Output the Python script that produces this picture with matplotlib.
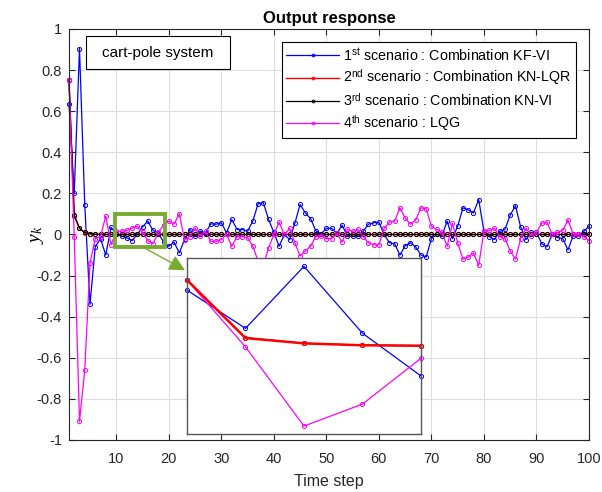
import numpy as np
import matplotlib
matplotlib.use('Agg')
import matplotlib.pyplot as plt
from matplotlib.patches import Rectangle

plt.rcParams['font.family'] = ['Liberation Sans', 'DejaVu Sans']
plt.rcParams['mathtext.fontset'] = 'custom'
plt.rcParams['mathtext.rm'] = 'Liberation Sans'
plt.rcParams['mathtext.it'] = 'Liberation Serif:italic'

# Data
steps = np.arange(1, 101)

kf_vi = [0.635, 0.20, 0.905, 0.145, -0.34, -0.06, -0.02, -0.10, 0.035, 0.00,
         -0.008, -0.016, -0.03, 0.0, 0.037, 0.065, 0.02, 0.008, -0.037, -0.057,
         -0.037, -0.09, -0.024, 0.024, -0.008, 0.016, 0.008, 0.052, 0.05, 0.057,
         0.008, 0.073, 0.024, 0.024, 0.016, 0.065, 0.15, 0.155, 0.073, 0.01,
         -0.057, 0.0, -0.025, 0.055, 0.146, 0.105, 0.077, 0.018, 0.003, 0.03,
         0.03, 0.005, 0.045, -0.008, -0.008, -0.008, 0.015, 0.05, 0.057, 0.06,
         0.0, -0.04, -0.045, -0.10, -0.055, -0.04, -0.06, -0.10, -0.11, -0.02,
         0.0, -0.005, 0.065, -0.02, 0.04, 0.13, 0.12, 0.105, 0.17, 0.015,
         -0.01, -0.025, 0.015, 0.025, 0.095, 0.14, 0.035, -0.025, 0.01, 0.01,
         -0.045, -0.06, 0.0, -0.015, -0.02, -0.075, -0.005, -0.005, 0.015, 0.04]

kn_lqr = [0.75, 0.09, 0.03, 0.008, 0.003, 0.001] + [0.0] * 94
kn_vi = [0.75, 0.095, 0.03, 0.01, 0.004, 0.001] + [0.0] * 94

lqg = [0.75, -0.01, -0.91, -0.66, -0.14, -0.02, -0.01, 0.09, -0.05, 0.016,
       0.016, 0.02, 0.03, 0.04, 0.01, -0.03, -0.045, 0.01, 0.045, 0.065,
       0.05, 0.10, -0.025, -0.01, 0.03, -0.008, 0.015, -0.033, -0.033, -0.025,
       0.0, -0.057, -0.01, -0.01, -0.015, -0.057, -0.13, -0.15, -0.065, 0.0,
       0.06, 0.0, 0.03, -0.04, -0.105, -0.08, -0.057, -0.01, -0.005, -0.02,
       -0.02, 0.005, -0.037, 0.025, 0.015, 0.025, -0.01, -0.04, -0.05, -0.05,
       0.03, 0.06, 0.065, 0.13, 0.08, 0.05, 0.07, 0.13, 0.125, 0.04,
       0.025, 0.01, -0.057, 0.054, -0.04, -0.12, -0.11, -0.09, -0.15, 0.016,
       0.02, 0.03, -0.01, -0.02, -0.08, -0.12, -0.02, 0.03, -0.005, 0.01,
       0.055, 0.06, 0.0, 0.01, 0.02, 0.07, 0.0, 0.0, -0.01, -0.03]

labels = [r'1$^{\rm st}$ scenario : Combination KF-VI',
          r'2$^{\rm nd}$ scenario : Combination KN-LQR',
          r'3$^{\rm rd}$ scenario : Combination KN-VI',
          r'4$^{\rm th}$ scenario : LQG']

BLUE, RED, BLACK, MAG = '#0000ff', '#ff0000', '#000000', '#ff00ff'
GREEN = '#77ac30'

fig = plt.figure(figsize=(6.02, 4.92), dpi=100)
ax = fig.add_axes([0.1146, 0.1057, 0.8638, 0.8354])

mk = dict(marker='o', markersize=3, markerfacecolor='none',
          markeredgewidth=0.7, clip_on=False)
ax.plot(steps, kf_vi, color=BLUE, lw=0.9, label=labels[0], **mk)
ax.plot(steps, kn_lqr, color=RED, lw=1.0, label=labels[1], **mk)
ax.plot(steps, kn_vi, color=BLACK, lw=0.9, label=labels[2], **mk)
ax.plot(steps, lqg, color=MAG, lw=0.9, label=labels[3], **mk)

ax.set_xlim(1, 100)
ax.set_ylim(-1, 1)
ax.set_xticks(np.arange(10, 101, 10))
ax.set_yticks(np.arange(-1, 1.01, 0.2))
ax.set_yticklabels(['-1', '-0.8', '-0.6', '-0.4', '-0.2', '0',
                    '0.2', '0.4', '0.6', '0.8', '1'])
ax.grid(True, color='#dedede', lw=0.8)
ax.tick_params(direction='in', top=True, right=True, length=4,
               labelsize=10.5, colors='#262626')
ax.tick_params(axis='x', pad=8.5)
ax.tick_params(axis='y', pad=5)
for s in ax.spines.values():
    s.set_color('#262626')
    s.set_linewidth(0.8)

ax.set_title('Output response', fontsize=12, fontweight='bold', pad=4)
ax.set_xlabel('Time step', fontsize=11.5, color='#262626', labelpad=6)
ax.set_ylabel(r'$y_k$', fontsize=14)
ax.yaxis.set_label_coords(-0.044, 0.5)

leg = ax.legend(loc='upper right', bbox_to_anchor=(0.975, 0.968),
                borderaxespad=0, fancybox=False, edgecolor='black',
                framealpha=1, fontsize=10.3, handlelength=3.7,
                handletextpad=0.3, labelspacing=0.3, borderpad=0.3)
leg.get_frame().set_linewidth(0.8)
for h in leg.get_lines():
    h.set_markersize(2)

# text box
ax.add_patch(Rectangle((0.033, 0.903), 0.277, 0.08, transform=ax.transAxes,
                       facecolor='white', edgecolor='black', lw=0.8, zorder=5))
ax.text(0.1715, 0.942, 'cart-pole system', transform=ax.transAxes,
        ha='center', va='center', fontsize=11, zorder=6)

# zoom rectangle and arrow
ax.add_patch(Rectangle((9.7, -0.06), 9.6, 0.158, facecolor='none',
                       edgecolor=GREEN, lw=2.8, zorder=4))
ax.annotate('', xy=(23.1, -0.174), xytext=(15.7, -0.07),
            arrowprops=dict(arrowstyle='-|>', color=GREEN, lw=1.0,
                            mutation_scale=24, shrinkA=0, shrinkB=0),
            zorder=4)

# inset
ins = fig.add_axes([0.3106, 0.1179, 0.3887, 0.3577])
ins.plot(steps[:5], kf_vi[:5], color=BLUE, lw=0.9, **mk)
ins.plot(steps[:5], kn_vi[:5], color=BLACK, lw=0.9, **mk)
ins.plot(steps[:5], lqg[:5], color=MAG, lw=0.9, **mk)
ins.plot(steps[:5], kn_lqr[:5], color=RED, lw=1.8, **mk)
ins.set_xlim(1, 5)
ins.set_ylim(-1, 1)
ins.set_xticks([])
ins.set_yticks([])
for s in ins.spines.values():
    s.set_color('#555555')
    s.set_linewidth(1.0)

fig.savefig('out.png', dpi=100)
